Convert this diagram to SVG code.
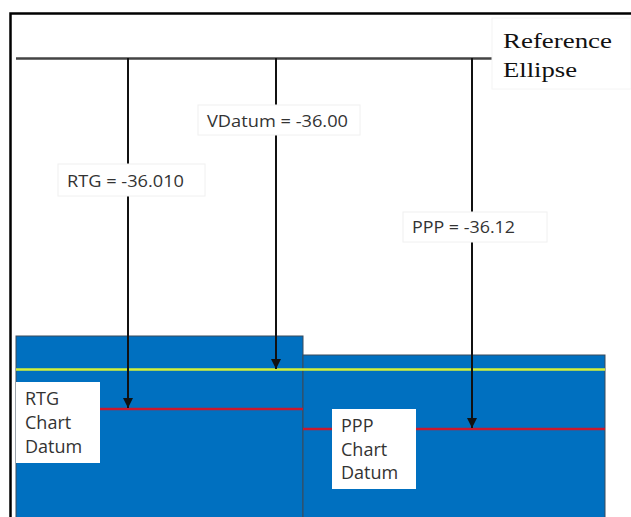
<svg xmlns="http://www.w3.org/2000/svg" width="631" height="517" viewBox="0 0 631 517">
  <style>
    .lbl { font-family: "Open Sans", "Liberation Sans", sans-serif; font-size: 17px; fill: #333; }
    .cd { font-family: "Open Sans", "Liberation Sans", sans-serif; font-size: 18px; fill: #333; }
    .ref { font-family: "Liberation Serif", "Times New Roman", serif; font-size: 22px; fill: #111; }
    .box { fill: #ffffff; stroke: #f0f0f0; stroke-width: 1; }
    .water { fill: #0070c0; stroke: #3a4a5a; stroke-width: 1; }
    .conn { stroke: #111; stroke-width: 2; fill: none; marker-end: url(#arr); }
  </style>
  <defs>
    <marker id="arr" viewBox="0 0 10 10" refX="10" refY="5" markerWidth="10" markerHeight="10" markerUnits="userSpaceOnUse" orient="auto">
      <path d="M0,0 L10,5 L0,10 z" fill="#111"/>
    </marker>
  </defs>
  <rect width="631" height="517" fill="#ffffff"/>
  <!-- frame -->
  <path d="M10.5,517 L10.5,13.5 L631,13.5" fill="none" stroke="#000" stroke-width="2.5"/>

  <!-- water blocks -->
  <g id="left-block">
    <rect class="water" x="16" y="336" width="287" height="190"/>
  </g>
  <g id="right-block">
    <rect class="water" x="303" y="355" width="302" height="170"/>
  </g>
  <!-- datum lines -->
  <g id="vdatum-line">
    <line x1="16" y1="369.5" x2="605" y2="369.5" stroke="#d4f03a" stroke-width="2.5"/>
  </g>
  <g id="rtg-line">
    <line x1="100" y1="409" x2="303" y2="409" stroke="#c8182e" stroke-width="2.5"/>
  </g>
  <g id="ppp-line">
    <line x1="303" y1="429" x2="605" y2="429" stroke="#c8182e" stroke-width="2.5"/>
  </g>

  <!-- reference ellipse -->
  <g id="reference-ellipse">
    <line x1="16" y1="58.5" x2="492" y2="58.5" stroke="#444" stroke-width="2.5"/>
    <rect x="492" y="18" width="139" height="71" fill="#fff" stroke="#f4f4f4"/>
    <text class="ref" x="503" y="48" textLength="109" lengthAdjust="spacingAndGlyphs">Reference</text>
    <text class="ref" x="503" y="77" textLength="74" lengthAdjust="spacingAndGlyphs">Ellipse</text>
  </g>

  <!-- connectors -->
  <g id="connectors">
    <line class="conn" x1="128" y1="58" x2="128" y2="408"/>
    <line class="conn" x1="276" y1="58" x2="276" y2="369"/>
    <line class="conn" x1="472" y1="58" x2="472" y2="428"/>
  </g>

  <!-- value labels -->
  <g id="vdatum-label">
    <rect class="box" x="198" y="105" width="162" height="30"/>
    <text class="lbl" x="207" y="127" textLength="141" lengthAdjust="spacingAndGlyphs">VDatum = -36.00</text>
  </g>
  <g id="rtg-label">
    <rect class="box" x="58" y="164" width="147" height="32"/>
    <text class="lbl" x="67" y="187" textLength="117" lengthAdjust="spacingAndGlyphs">RTG = -36.010</text>
  </g>
  <g id="ppp-label">
    <rect class="box" x="403" y="212" width="144" height="30"/>
    <text class="lbl" x="412" y="233" textLength="103" lengthAdjust="spacingAndGlyphs">PPP = -36.12</text>
  </g>

  <!-- chart datum labels -->
  <g id="rtg-chart-datum">
    <rect x="16" y="382" width="84" height="81" fill="#fff"/>
    <text class="cd" x="25" y="405">RTG</text>
    <text class="cd" x="25" y="429">Chart</text>
    <text class="cd" x="25" y="453">Datum</text>
  </g>
  <g id="ppp-chart-datum">
    <rect x="332" y="409" width="84" height="80" fill="#fff"/>
    <text class="cd" x="341" y="432">PPP</text>
    <text class="cd" x="341" y="456">Chart</text>
    <text class="cd" x="341" y="479">Datum</text>
  </g>
</svg>
